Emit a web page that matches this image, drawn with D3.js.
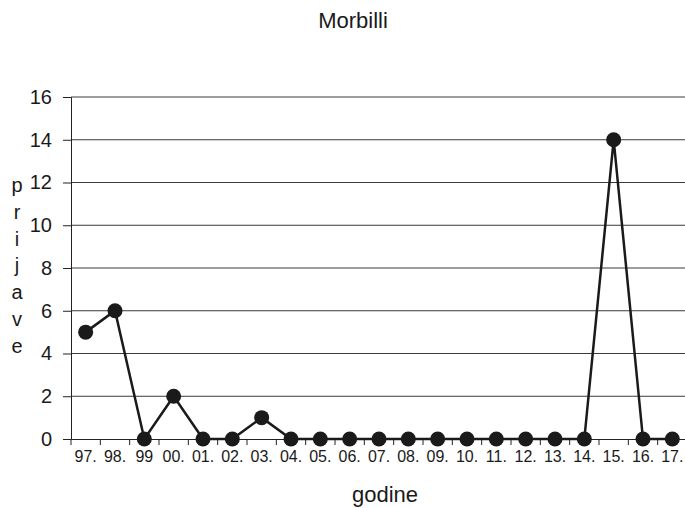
<!DOCTYPE html>
<html>
<head>
<meta charset="utf-8">
<script src="https://cdn.jsdelivr.net/npm/d3@7"></script>
<style>
  html, body { margin: 0; padding: 0; background: #fff; }
  svg { display: block; font-family: "Liberation Sans", Arial, sans-serif; }
</style>
</head>
<body>
<svg id="chart" width="685" height="508"></svg>
<script>
const title = "Morbilli";
const categories = ["97.", "98.", "99", "00.", "01.", "02.", "03.", "04.", "05.", "06.", "07.", "08.", "09.", "10.", "11.", "12.", "13.", "14.", "15.", "16.", "17."];
const values = [5, 6, 0, 2, 0, 0, 1, 0, 0, 0, 0, 0, 0, 0, 0, 0, 0, 0, 14, 0, 0];
const yTicks = [0, 2, 4, 6, 8, 10, 12, 14, 16];
const xTitle = "godine";
const yTitleLetters = ["p", "r", "i", "j", "a", "v", "e"];

const svg = d3.select("#chart");
const margin = { left: 71, right: -2, top: 97, bottom: 69 };
const W = 685, H = 508;

const x = d3.scaleBand().domain(categories).range([margin.left, W - margin.right]);
const y = d3.scaleLinear().domain([0, 16]).range([H - margin.bottom, margin.top]);

// gridlines
svg.append("g")
  .selectAll("line")
  .data(yTicks.filter(d => d > 0))
  .join("line")
  .attr("x1", margin.left).attr("x2", W)
  .attr("y1", d => y(d)).attr("y2", d => y(d))
  .attr("stroke", "#3a3a3a").attr("stroke-width", 1);

// y axis
const yAxis = svg.append("g")
  .attr("transform", `translate(${margin.left},0)`)
  .call(d3.axisLeft(y).tickValues(yTicks).tickSize(8).tickPadding(11).tickFormat(d3.format("d")));
yAxis.select(".domain").attr("stroke", "#222");
yAxis.selectAll(".tick line").attr("stroke", "#222");
yAxis.selectAll("text").attr("font-size", 20).attr("fill", "#1a1a1a").attr("font-family", "Liberation Sans, Arial, sans-serif");

// x axis
const xAxis = svg.append("g")
  .attr("transform", `translate(0,${y(0)})`)
  .call(d3.axisBottom(x).tickSize(0).tickPadding(12));
xAxis.select(".domain").attr("stroke", "#222");
xAxis.selectAll("text").attr("font-size", 16).attr("fill", "#1a1a1a").attr("font-family", "Liberation Sans, Arial, sans-serif");
// tick marks at category boundaries
svg.append("g")
  .selectAll("line")
  .data(categories)
  .join("line")
  .attr("x1", d => x(d)).attr("x2", d => x(d))
  .attr("y1", y(0)).attr("y2", y(0) + 6)
  .attr("stroke", "#222");

// line
const line = d3.line()
  .x((d, i) => x(categories[i]) + x.bandwidth() / 2)
  .y(d => y(d));
svg.append("path")
  .datum(values)
  .attr("d", line)
  .attr("fill", "none")
  .attr("stroke", "#1a1a1a")
  .attr("stroke-width", 2.5);

svg.append("g")
  .selectAll("circle")
  .data(values)
  .join("circle")
  .attr("cx", (d, i) => x(categories[i]) + x.bandwidth() / 2)
  .attr("cy", d => y(d))
  .attr("r", 7.5)
  .attr("fill", "#1a1a1a");

// title
svg.append("text")
  .attr("x", 353).attr("y", 28)
  .attr("text-anchor", "middle")
  .attr("font-size", 22).attr("fill", "#1a1a1a")
  .text(title);

// x title
svg.append("text")
  .attr("x", 385).attr("y", 502)
  .attr("text-anchor", "middle")
  .attr("font-size", 22).attr("fill", "#1a1a1a")
  .text(xTitle);

// y title stacked letters
svg.append("g")
  .selectAll("text")
  .data(yTitleLetters)
  .join("text")
  .attr("x", 17).attr("y", (d, i) => 192 + i * 26.8)
  .attr("text-anchor", "middle")
  .attr("font-size", 20).attr("fill", "#1a1a1a")
  .text(d => d);
</script>
</body>
</html>
